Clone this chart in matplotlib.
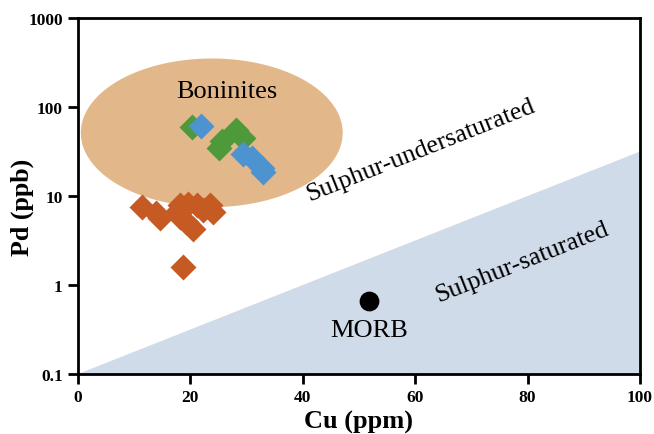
import numpy as np
import matplotlib
matplotlib.use("Agg")
import matplotlib.pyplot as plt

# Data
orange_cu = [11.3, 13.9, 14.6, 17.6, 18.1, 19.6, 21.1, 23.5, 24.1, 22.3, 18.1, 19.3, 20.5, 18.7]
orange_pd = [7.5, 6.4, 5.6, 6.6, 7.9, 8.2, 7.9, 7.9, 6.6, 7.0, 5.8, 5.1, 4.3, 1.6]
green_cu = [20.2, 25.6, 25.0, 28.2, 29.4]
green_pd = [60, 42, 35, 55, 45]
blue_cu = [21.8, 29.4, 30.9, 32.7, 33.0]
blue_pd = [61, 30, 26.5, 20.4, 18.5]
morb_cu = [51.8]
morb_pd = [0.66]
sat_cu = [0, 100, 100]
sat_pd = [0.1, 31.6, 0.1]
x_ticks = [0, 20, 40, 60, 80, 100]
y_ticks = [0.1, 1, 10, 100, 1000]
y_ticklabels = ["0.1", "1", "10", "100", "1000"]

serif = ["Liberation Serif", "DejaVu Serif"]
plt.rcParams['font.family'] = serif

fig = plt.figure(figsize=(6.54, 4.35), dpi=100)
ax = fig.add_axes([78/654, 60/435, 562/654, 356/435])
ax.set_xlim(0, 100)
ax.set_yscale('log')
ax.set_ylim(0.1, 1000)

# saturated region
ax.fill(sat_cu, sat_pd, color='#cfdbe8', lw=0, zorder=1)

# boninite ellipse (in display-linear space: linear x, log y)
ecx, ecy_log, ea, eb = 23.8, 1.71, 23.3, 0.835
t = np.linspace(0, 2*np.pi, 300)
ax.fill(ecx + ea*np.cos(t), 10**(ecy_log + eb*np.sin(t)), color='#e2b88b', lw=0, zorder=2)

ms = 175
ax.scatter(orange_cu, orange_pd, marker='D', s=ms, color='#c55a22', zorder=3, lw=0)
ax.scatter(green_cu, green_pd, marker='D', s=ms, color='#4e9a3b', zorder=4, lw=0)
ax.scatter(blue_cu, blue_pd, marker='D', s=ms, color='#4d93d0', zorder=5, lw=0)
ax.scatter(morb_cu, morb_pd, marker='o', s=175, color='black', zorder=6)

ax.text(26.5, 150, "Boninites", fontsize=19, ha='center', va='center', zorder=7)
ax.text(51.8, 0.31, "MORB", fontsize=19, ha='center', va='center', zorder=7)
ax.text(61, 33, "Sulphur-undersaturated", fontsize=18.7, ha='center', va='center', rotation=21.7, zorder=7)
ax.text(79, 1.85, "Sulphur-saturated", fontsize=18.7, ha='center', va='center', rotation=21.7, zorder=7)

ax.set_xticks(x_ticks)
ax.set_xticklabels([str(v) for v in x_ticks])
ax.set_yticks(y_ticks)
ax.set_yticklabels(y_ticklabels)
ax.yaxis.set_minor_locator(matplotlib.ticker.NullLocator())
ax.tick_params(direction='out', length=7, width=2, labelsize=12.5, pad=4)
for lab in ax.get_xticklabels() + ax.get_yticklabels():
    lab.set_fontweight('bold')
for s in ax.spines.values():
    s.set_linewidth(2)
    s.set_zorder(10)

ax.set_xlabel("Cu (ppm)", fontsize=19, fontweight='bold', labelpad=3)
ax.set_ylabel("Pd (ppb)", fontsize=18.7, fontweight='bold', labelpad=4)
ax.yaxis.set_label_coords(-0.078, 0.472)

fig.savefig("out.png", dpi=100)
